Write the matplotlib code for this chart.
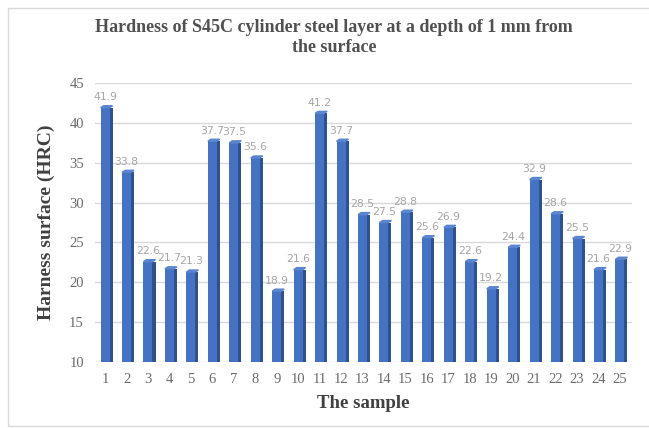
import matplotlib.pyplot as plt
from matplotlib.patches import Polygon, Rectangle

# Hardness measured on each sample
samples = list(range(1, 26))
hardness = [41.9, 33.8, 22.6, 21.7, 21.3, 37.7, 37.5, 35.6, 18.9, 21.6,
            41.2, 37.7, 28.5, 27.5, 28.8, 25.6, 26.9, 22.6, 19.2, 24.4,
            32.9, 28.6, 25.5, 21.6, 22.9]

front = '#4472C4'
side = '#2F528F'
top = '#5B85D0'

fig = plt.figure(figsize=(6.49, 4.28), dpi=100)
fig.patches.append(Rectangle((8 / 649, 0.005), 1, 1 - 8 / 428 - 0.005,
                             transform=fig.transFigure, fill=False,
                             edgecolor='#d9d9d9', linewidth=1))
ax = fig.add_axes([95 / 649, 0.154, (632 - 95) / 649, 0.652])

w = 0.42
d = 0.14
base = 10
ax.bar(samples, [h - base for h in hardness], bottom=base, width=w,
       color=front, zorder=3)
ax.bar([s + w / 2 for s in samples], [h - base for h in hardness], bottom=base,
       width=d, align='edge', color=side, zorder=3)
for s, h in zip(samples, hardness):
    ax.add_patch(Polygon([(s - w / 2, h), (s + w / 2, h),
                          (s + w / 2 + d, h + 0.25), (s - w / 2 + d, h + 0.25)],
                         closed=True, color=top, zorder=4))
    ax.text(s, h + 0.7, f'{h}', ha='center', va='bottom', fontsize=7.8,
            color='#a6a6a6', family='DejaVu Sans')

ax.set_xlim(0.53, 25.56)
ax.set_ylim(10, 45)
ax.set_yticks(range(10, 46, 5))
ax.set_xticks(samples)
ax.yaxis.grid(True, color='#d9d9d9', linewidth=1, zorder=0)
for sp in ax.spines.values():
    sp.set_visible(False)
ax.tick_params(length=0, labelsize=10.5, labelcolor='#6b6b6b', pad=8)
for lbl in ax.get_xticklabels() + ax.get_yticklabels():
    lbl.set_family('Liberation Serif')

ax.set_xlabel('The sample', family='Liberation Serif', fontweight='bold',
              fontsize=13.5, color='#404040', labelpad=6)
ax.set_ylabel('Harness surface (HRC)', family='Liberation Serif',
              fontweight='bold', fontsize=14, color='#404040', labelpad=10)
fig.text(0.515, 0.912, 'Hardness of S45C cylinder steel layer at a depth of 1 mm from\nthe surface',
         ha='center', va='center', family='Liberation Serif', fontweight='bold',
         fontsize=13, color='#505050', linespacing=1.25)

fig.savefig('out.png', dpi=100)
